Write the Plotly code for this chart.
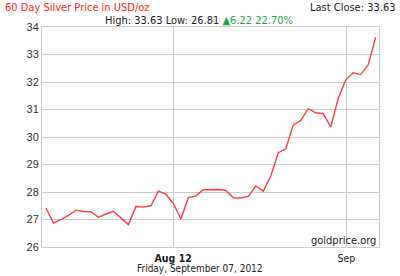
import plotly.graph_objects as go

# ---- data ----
prices = [27.41, 26.87, 27.00, 27.15, 27.34, 27.29, 27.28, 27.08, 27.20, 27.30,
          27.06, 26.81, 27.47, 27.45, 27.50, 28.03, 27.92, 27.58, 27.02, 27.80,
          27.86, 28.08, 28.08, 28.09, 28.06, 27.79, 27.78, 27.84, 28.22, 28.03,
          28.58, 29.43, 29.57, 30.44, 30.60, 31.03, 30.88, 30.85, 30.37, 31.40,
          32.08, 32.34, 32.27, 32.62, 33.63]
x_index = list(range(len(prices)))
x_tick_pos = [16.97, 40.09]
x_tick_labels = ["<b>Aug 12</b>", "Sep"]
y_ticks = [26, 27, 28, 29, 30, 31, 32, 33, 34]

title_text = "60 Day Silver Price in USD/oz"
last_close_text = "Last Close: 33.63"
stats_text = ("High: 33.63 Low: 26.81 "
              "<span style='color:#1fa64a'>\u25B26.22 22.70%</span>")
date_text = "Friday, September 07, 2012"
source_text = "goldprice.org"

W, H = 400, 276
L, R, T, B = 42, 21, 27, 27
pw, ph = W - L - R, H - T - B

def px(xp):
    return (xp - L) / pw

def py(yp):
    return (H - B - yp) / ph

FAM = "DejaVu Sans Condensed, DejaVu Sans"
hdr_font = dict(family=FAM, size=11, color="#222")

fig = go.Figure()
fig.add_trace(go.Scatter(x=x_index, y=prices, mode="lines",
                         line=dict(color="#ff3b3b", width=1.4),
                         hoverinfo="skip", showlegend=False))

fig.update_layout(
    width=W, height=H,
    margin=dict(l=L, r=R, t=T, b=B, pad=0),
    paper_bgcolor="white", plot_bgcolor="white",
    xaxis=dict(range=[-0.533, 44.44], tickmode="array", tickvals=x_tick_pos,
               ticktext=x_tick_labels, showgrid=True, gridcolor="#cccccc",
               gridwidth=1, zeroline=False, showline=True, linecolor="#cccccc",
               linewidth=1, mirror=True, ticks="", ticklabelstandoff=1,
               tickfont=dict(family=FAM, size=10.5, color="#222")),
    yaxis=dict(range=[26, 34], tickmode="array", tickvals=y_ticks,
               showgrid=True, gridcolor="#cccccc", gridwidth=1, zeroline=False,
               showline=True, linecolor="#cccccc", linewidth=1, mirror=True,
               ticks="", tickfont=dict(family="Liberation Sans, Arial", size=11, color="#333")),
    annotations=[
        dict(text=title_text, xref="paper", yref="paper", x=px(3), y=py(7),
             xanchor="left", yanchor="middle", showarrow=False,
             font=dict(family=FAM, size=11, color="#ff2020")),
        dict(text=last_close_text, xref="paper", yref="paper", x=px(398), y=py(7),
             xanchor="right", yanchor="middle", showarrow=False, font=hdr_font),
        dict(text=stats_text, xref="paper", yref="paper", x=px(199), y=py(20.5),
             xanchor="center", yanchor="middle", showarrow=False, font=hdr_font),
        dict(text=date_text, xref="paper", yref="paper", x=px(199.5), y=py(271),
             xanchor="center", yanchor="middle", showarrow=False,
             font=dict(family=FAM, size=10, color="#222")),
        dict(text=source_text, xref="paper", yref="paper", x=px(378), y=py(242),
             xanchor="right", yanchor="middle", showarrow=False, font=hdr_font),
    ],
)

fig.write_html("out.html")
